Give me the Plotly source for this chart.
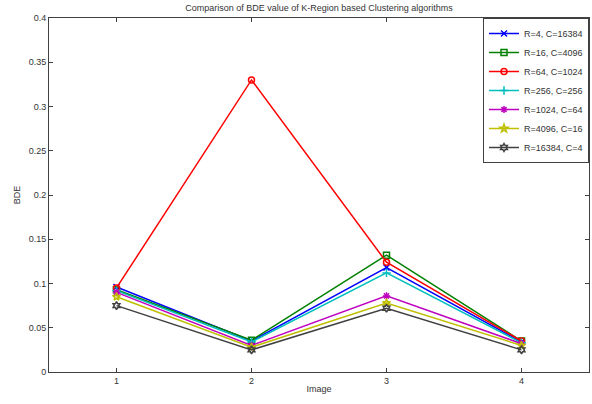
import plotly.graph_objects as go

images = [1, 2, 3, 4]
names = ["R=4, C=16384", "R=16, C=4096", "R=64, C=1024", "R=256, C=256",
         "R=1024, C=64", "R=4096, C=16", "R=16384, C=4"]
r4_c16384 = [0.096, 0.035, 0.118, 0.034]
r16_c4096 = [0.093, 0.036, 0.132, 0.035]
r64_c1024 = [0.095, 0.330, 0.124, 0.035]
r256_c256 = [0.092, 0.034, 0.112, 0.033]
r1024_c64 = [0.090, 0.030, 0.086, 0.032]
r4096_c16 = [0.085, 0.028, 0.078, 0.030]
r16384_c4 = [0.075, 0.025, 0.072, 0.025]
series = [r4_c16384, r16_c4096, r64_c1024, r256_c256, r1024_c64, r4096_c16, r16384_c4]
colors = ["#0000ff", "#008000", "#ff0000", "#00bfbf", "#bf00bf", "#bfbf00", "#404040"]
symbols = ["x-thin-open", "square-open", "circle-open", "cross-thin-open",
           "asterisk-open", "star-open", "hexagram-open"]

fig = go.Figure()
for n, s, c, m in zip(names, series, colors, symbols):
    fig.add_trace(go.Scatter(x=images, y=s, name=n, mode="lines+markers",
                             line=dict(color=c, width=1.5),
                             marker=dict(symbol=m, size=6, color=c,
                                         line=dict(color=c, width=1.5))))

axis_common = dict(showline=True, linecolor="#404040", linewidth=1, mirror="ticks",
                   ticks="inside", ticklen=4, tickcolor="#404040", showgrid=False,
                   zeroline=False, tickfont=dict(size=9, color="#333333"))
fig.update_layout(
    width=592, height=404,
    margin=dict(l=49, r=3, t=18, b=32),
    paper_bgcolor="white", plot_bgcolor="white",
    font=dict(family="Liberation Sans, Arial, sans-serif", size=9, color="#333333"),
    title=dict(text="Comparison of BDE value of K-Region based Clustering algorithms",
               x=0.5, xref="paper", y=1 - 8/404, yanchor="middle",
               font=dict(size=9, color="#333333")),
    xaxis=dict(range=[0.5, 4.5], tickvals=images, ticktext=[str(i) for i in images],
               title=dict(text="Image", standoff=0, font=dict(size=9)), **axis_common),
    yaxis=dict(range=[0, 0.4], tickvals=[0, 0.05, 0.1, 0.15, 0.2, 0.25, 0.3, 0.35, 0.4],
               ticktext=["0", "0.05", "0.1", "0.15", "0.2", "0.25", "0.3", "0.35", "0.4"],
               title=dict(text="BDE", standoff=6, font=dict(size=9)), **axis_common),
    legend=dict(x=1, y=1, xanchor="right", yanchor="top", bgcolor="white",
                bordercolor="#404040", borderwidth=1, font=dict(size=9),
                tracegroupgap=0, itemwidth=30),
    showlegend=True,
)
fig.write_html("out.html", config={"displayModeBar": False},
               post_script="document.body.style.margin='0';")
